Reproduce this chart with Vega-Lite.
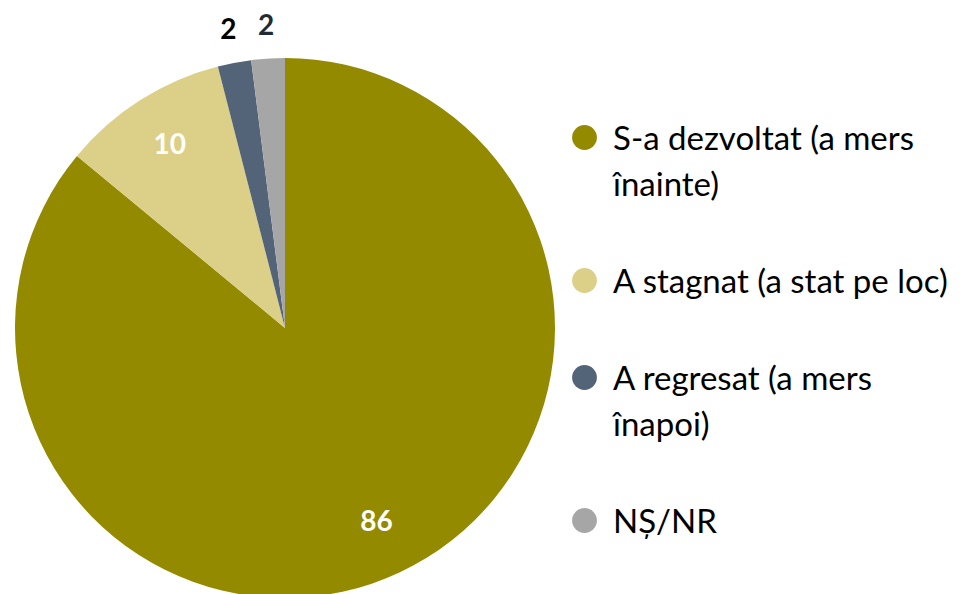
{
  "$schema": "https://vega.github.io/schema/vega-lite/v6.json",
  "autosize": "none",
  "padding": {"left": 0, "top": 0, "right": 398, "bottom": 0},
  "width": 570,
  "height": 656,
  "background": "white",
  "config": {"view": {"stroke": null}, "font": "Lato"},
  "data": {"values": [
    {"cat": "S-a dezvoltat (a mers înainte)", "value": 86, "order": 1},
    {"cat": "A stagnat (a stat pe loc)", "value": 10, "order": 2},
    {"cat": "A regresat (a mers înapoi)", "value": 2, "order": 3},
    {"cat": "NȘ/NR", "value": 2, "order": 4}
  ]},
  "encoding": {
    "theta": {"field": "value", "type": "quantitative", "stack": true},
    "order": {"field": "order", "type": "quantitative"}
  },
  "layer": [
    {
      "mark": {"type": "arc", "outerRadius": 270},
      "encoding": {
        "color": {
          "field": "cat", "type": "nominal",
          "scale": {
            "domain": ["S-a dezvoltat (a mers înainte)", "A stagnat (a stat pe loc)", "A regresat (a mers înapoi)", "NȘ/NR"],
            "range": ["#948A00", "#DCCF87", "#546478", "#A6A6A6"]
          },
          "legend": {
            "orient": "none",
            "legendX": 568,
            "legendY": 121,
            "title": null,
            "symbolType": "circle",
            "symbolSize": 615,
            "symbolStrokeWidth": 0,
            "labelFont": "Lato",
            "labelFontSize": 33,
            "labelColor": "#000000",
            "labelLimit": 400,
            "labelOffset": 12,
            "rowPadding": 61,
            "labelBaseline": "alphabetic",
            "labelExpr": "datum.label == 'S-a dezvoltat (a mers înainte)' ? ['S-a dezvoltat (a mers', 'înainte)'] : datum.label == 'A regresat (a mers înapoi)' ? ['A regresat (a mers', 'înapoi)'] : datum.label",
            "encode": {"labels": {"update": {"dy": {"value": 12}, "lineHeight": {"value": 46}}}}
          }
        }
      }
    },
    {
      "mark": {"type": "text", "font": "Lato", "fontWeight": "bold", "fontSize": 28, "baseline": "middle", "align": "center", "radius": 215, "color": "#FFFFFF"},
      "encoding": {
        "text": {"condition": {"test": "datum.value >= 5", "field": "value", "type": "quantitative"}, "value": ""}
      }
    },
    {
      "mark": {"type": "text", "font": "Lato", "fontWeight": "bold", "fontSize": 28, "baseline": "middle", "align": "center", "radius": 302},
      "encoding": {
        "text": {"condition": {"test": "datum.value < 5", "field": "value", "type": "quantitative"}, "value": ""},
        "color": {"condition": {"test": "datum.order == 3", "value": "#000000"}, "value": "#222A35"}
      }
    }
  ]
}
